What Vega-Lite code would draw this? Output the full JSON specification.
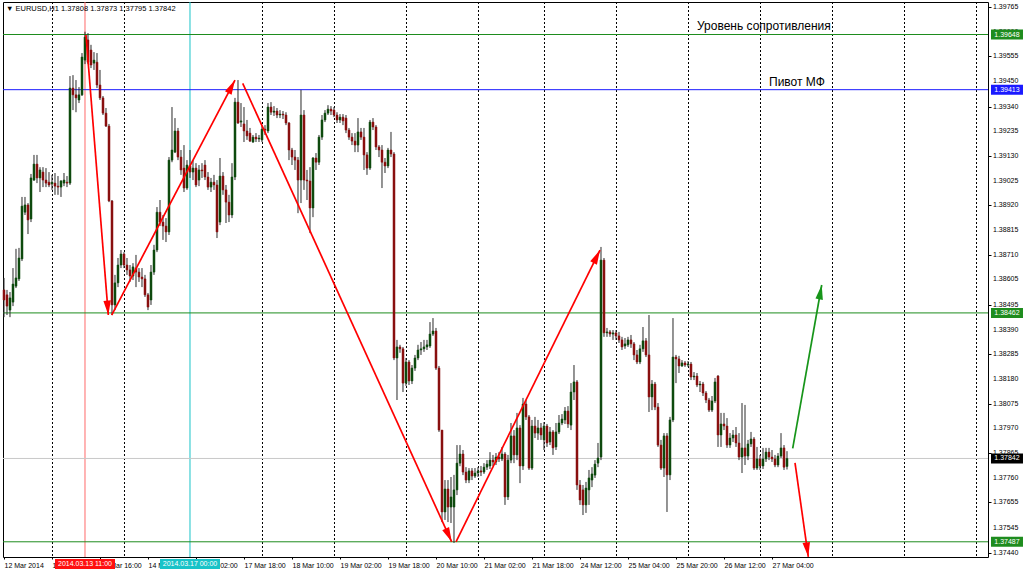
{
"$schema": "https://vega.github.io/schema/vega-lite/v6.json",
"width": 985, "height": 555,
"autosize": {"type": "none"},
"padding": {"left": 3, "top": 2, "right": 36, "bottom": 15},
"background": "#ffffff",
"config": {"view": {"stroke": "#000000", "strokeWidth": 1}, "font": "Liberation Sans", "axis": {"labelOverlap": false, "labelSeparation": 0}, "scale": {"continuousPadding": 0}},
"resolve": {"scale": {"color": "independent"}},
"datasets": {
"candles": [
{"i":0,"o":1.3856,"h":1.38611,"l":1.38444,"c":1.38517},
{"i":1,"o":1.38539,"h":1.3856,"l":1.38453,"c":1.38491},
{"i":2,"o":1.38474,"h":1.38551,"l":1.38444,"c":1.38526},
{"i":3,"o":1.38508,"h":1.38653,"l":1.38491,"c":1.38585},
{"i":4,"o":1.38576,"h":1.38735,"l":1.38568,"c":1.38611},
{"i":5,"o":1.38607,"h":1.38739,"l":1.38598,"c":1.38696},
{"i":6,"o":1.38692,"h":1.38956,"l":1.38683,"c":1.38917},
{"i":7,"o":1.38891,"h":1.38956,"l":1.38879,"c":1.38922},
{"i":8,"o":1.38922,"h":1.3893,"l":1.38798,"c":1.38858},
{"i":9,"o":1.38862,"h":1.39054,"l":1.38849,"c":1.39037},
{"i":10,"o":1.39028,"h":1.39135,"l":1.39024,"c":1.39096},
{"i":11,"o":1.39096,"h":1.39135,"l":1.39015,"c":1.39037},
{"i":12,"o":1.39037,"h":1.39083,"l":1.38977,"c":1.39071},
{"i":13,"o":1.39062,"h":1.39083,"l":1.38998,"c":1.39028},
{"i":14,"o":1.39028,"h":1.39079,"l":1.38998,"c":1.39015},
{"i":15,"o":1.39019,"h":1.39062,"l":1.38998,"c":1.39007},
{"i":16,"o":1.39011,"h":1.3905,"l":1.38986,"c":1.39019},
{"i":17,"o":1.39015,"h":1.39058,"l":1.38965,"c":1.39002},
{"i":18,"o":1.39002,"h":1.39045,"l":1.38965,"c":1.38998},
{"i":19,"o":1.38998,"h":1.39028,"l":1.38956,"c":1.39024},
{"i":20,"o":1.39015,"h":1.39058,"l":1.39002,"c":1.39028},
{"i":21,"o":1.39019,"h":1.39045,"l":1.38998,"c":1.39015},
{"i":22,"o":1.39015,"h":1.39471,"l":1.39007,"c":1.3942},
{"i":23,"o":1.3942,"h":1.39475,"l":1.39326,"c":1.39391},
{"i":24,"o":1.39391,"h":1.39454,"l":1.39317,"c":1.39378},
{"i":25,"o":1.39369,"h":1.39424,"l":1.39356,"c":1.39391},
{"i":26,"o":1.39391,"h":1.39569,"l":1.39386,"c":1.39552},
{"i":27,"o":1.39539,"h":1.3966,"l":1.39522,"c":1.39637},
{"i":28,"o":1.39625,"h":1.39654,"l":1.39522,"c":1.3953},
{"i":29,"o":1.39582,"h":1.39604,"l":1.39505,"c":1.39518},
{"i":30,"o":1.39526,"h":1.39573,"l":1.39497,"c":1.39539},
{"i":31,"o":1.3953,"h":1.39569,"l":1.3942,"c":1.39433},
{"i":32,"o":1.39433,"h":1.39497,"l":1.39369,"c":1.39378},
{"i":33,"o":1.39378,"h":1.39386,"l":1.39305,"c":1.39313},
{"i":34,"o":1.39313,"h":1.39335,"l":1.39254,"c":1.39258},
{"i":35,"o":1.39258,"h":1.39267,"l":1.38934,"c":1.38939},
{"i":36,"o":1.38939,"h":1.38943,"l":1.38453,"c":1.38496},
{"i":37,"o":1.38496,"h":1.38624,"l":1.38474,"c":1.3859},
{"i":38,"o":1.3859,"h":1.38696,"l":1.38572,"c":1.38666},
{"i":39,"o":1.38666,"h":1.3873,"l":1.38653,"c":1.38713},
{"i":40,"o":1.38713,"h":1.38721,"l":1.38653,"c":1.38666},
{"i":41,"o":1.38666,"h":1.38696,"l":1.38624,"c":1.38645},
{"i":42,"o":1.38645,"h":1.38666,"l":1.38594,"c":1.38619},
{"i":43,"o":1.38619,"h":1.38674,"l":1.38602,"c":1.38658},
{"i":44,"o":1.38653,"h":1.38709,"l":1.38572,"c":1.38636},
{"i":45,"o":1.38636,"h":1.38653,"l":1.38594,"c":1.38615},
{"i":46,"o":1.38615,"h":1.38653,"l":1.38572,"c":1.38607},
{"i":47,"o":1.38607,"h":1.38624,"l":1.3853,"c":1.38539},
{"i":48,"o":1.38539,"h":1.38547,"l":1.38474,"c":1.38487},
{"i":49,"o":1.38517,"h":1.38666,"l":1.38496,"c":1.38636},
{"i":50,"o":1.38636,"h":1.38752,"l":1.38624,"c":1.3873},
{"i":51,"o":1.3873,"h":1.38913,"l":1.38721,"c":1.38891},
{"i":52,"o":1.38891,"h":1.38943,"l":1.38832,"c":1.38849},
{"i":53,"o":1.38849,"h":1.38879,"l":1.38773,"c":1.38832},
{"i":54,"o":1.38832,"h":1.38866,"l":1.38764,"c":1.38807},
{"i":55,"o":1.38807,"h":1.39126,"l":1.38794,"c":1.39113},
{"i":56,"o":1.39113,"h":1.39339,"l":1.39104,"c":1.39156},
{"i":57,"o":1.39147,"h":1.39292,"l":1.39143,"c":1.39237},
{"i":58,"o":1.39237,"h":1.3925,"l":1.39113,"c":1.39126},
{"i":59,"o":1.39126,"h":1.39156,"l":1.3905,"c":1.39071},
{"i":60,"o":1.39079,"h":1.39177,"l":1.38977,"c":1.38994},
{"i":61,"o":1.38994,"h":1.39113,"l":1.38986,"c":1.39092},
{"i":62,"o":1.39088,"h":1.39156,"l":1.39037,"c":1.39062},
{"i":63,"o":1.39062,"h":1.39113,"l":1.39028,"c":1.39079},
{"i":64,"o":1.39079,"h":1.391,"l":1.38998,"c":1.39007},
{"i":65,"o":1.39028,"h":1.39092,"l":1.39002,"c":1.39071},
{"i":66,"o":1.39071,"h":1.391,"l":1.39037,"c":1.39067},
{"i":67,"o":1.39092,"h":1.39113,"l":1.39028,"c":1.39041},
{"i":68,"o":1.39041,"h":1.39062,"l":1.38986,"c":1.38998},
{"i":69,"o":1.38998,"h":1.39037,"l":1.38977,"c":1.39019},
{"i":70,"o":1.39019,"h":1.3905,"l":1.38986,"c":1.39007},
{"i":71,"o":1.39007,"h":1.39028,"l":1.38781,"c":1.38807},
{"i":72,"o":1.38849,"h":1.39122,"l":1.38836,"c":1.39045},
{"i":73,"o":1.39045,"h":1.39062,"l":1.38965,"c":1.38986},
{"i":74,"o":1.38986,"h":1.39007,"l":1.38845,"c":1.38934},
{"i":75,"o":1.38934,"h":1.38965,"l":1.38849,"c":1.38879},
{"i":76,"o":1.38879,"h":1.391,"l":1.38866,"c":1.39041},
{"i":77,"o":1.39041,"h":1.39378,"l":1.39028,"c":1.3936},
{"i":78,"o":1.3936,"h":1.39454,"l":1.39267,"c":1.39271},
{"i":79,"o":1.39275,"h":1.39356,"l":1.39254,"c":1.3928},
{"i":80,"o":1.39267,"h":1.39339,"l":1.3919,"c":1.39237},
{"i":81,"o":1.39237,"h":1.39284,"l":1.39199,"c":1.39216},
{"i":82,"o":1.39228,"h":1.3925,"l":1.3919,"c":1.39194},
{"i":83,"o":1.3919,"h":1.3922,"l":1.39186,"c":1.39211},
{"i":84,"o":1.39211,"h":1.39228,"l":1.3919,"c":1.39203},
{"i":85,"o":1.39203,"h":1.3922,"l":1.3919,"c":1.39207},
{"i":86,"o":1.39199,"h":1.39258,"l":1.3919,"c":1.39245},
{"i":87,"o":1.39245,"h":1.39262,"l":1.3922,"c":1.39241},
{"i":88,"o":1.39237,"h":1.39356,"l":1.39228,"c":1.39339},
{"i":89,"o":1.39339,"h":1.3936,"l":1.39305,"c":1.39317},
{"i":90,"o":1.39317,"h":1.39343,"l":1.39301,"c":1.39322},
{"i":91,"o":1.39322,"h":1.39335,"l":1.39292,"c":1.39305},
{"i":92,"o":1.39305,"h":1.39326,"l":1.39292,"c":1.39309},
{"i":93,"o":1.39309,"h":1.39322,"l":1.39288,"c":1.39305},
{"i":94,"o":1.39305,"h":1.39317,"l":1.39262,"c":1.39271},
{"i":95,"o":1.39271,"h":1.39275,"l":1.39113,"c":1.39156},
{"i":96,"o":1.39156,"h":1.39165,"l":1.39092,"c":1.39126},
{"i":97,"o":1.39126,"h":1.39156,"l":1.39071,"c":1.39113},
{"i":98,"o":1.39113,"h":1.39126,"l":1.38887,"c":1.39028},
{"i":99,"o":1.39028,"h":1.39412,"l":1.3893,"c":1.39305},
{"i":100,"o":1.39305,"h":1.39326,"l":1.38986,"c":1.39028},
{"i":101,"o":1.39028,"h":1.39071,"l":1.38943,"c":1.39024},
{"i":102,"o":1.39024,"h":1.39083,"l":1.38802,"c":1.38909},
{"i":103,"o":1.38909,"h":1.39126,"l":1.3887,"c":1.39122},
{"i":104,"o":1.39122,"h":1.39143,"l":1.39071,"c":1.39104},
{"i":105,"o":1.39104,"h":1.3922,"l":1.39092,"c":1.39211},
{"i":106,"o":1.39211,"h":1.39305,"l":1.39199,"c":1.39284},
{"i":107,"o":1.39284,"h":1.39326,"l":1.39275,"c":1.39313},
{"i":108,"o":1.39313,"h":1.39347,"l":1.39305,"c":1.3933},
{"i":109,"o":1.3933,"h":1.39343,"l":1.39305,"c":1.39322},
{"i":110,"o":1.39326,"h":1.39339,"l":1.39296,"c":1.39305},
{"i":111,"o":1.39305,"h":1.39317,"l":1.39271,"c":1.39284},
{"i":112,"o":1.39284,"h":1.39309,"l":1.39271,"c":1.39296},
{"i":113,"o":1.39296,"h":1.39309,"l":1.39262,"c":1.3928},
{"i":114,"o":1.39292,"h":1.39305,"l":1.39228,"c":1.39241},
{"i":115,"o":1.39241,"h":1.3925,"l":1.39199,"c":1.39211},
{"i":116,"o":1.39211,"h":1.39228,"l":1.39177,"c":1.39194},
{"i":117,"o":1.39194,"h":1.39228,"l":1.39147,"c":1.39177},
{"i":118,"o":1.39177,"h":1.39292,"l":1.39147,"c":1.39233},
{"i":119,"o":1.39233,"h":1.3925,"l":1.39199,"c":1.39211},
{"i":120,"o":1.39211,"h":1.3925,"l":1.39071,"c":1.39135},
{"i":121,"o":1.39135,"h":1.39147,"l":1.3905,"c":1.39079},
{"i":122,"o":1.39079,"h":1.39284,"l":1.39071,"c":1.39275},
{"i":123,"o":1.39275,"h":1.39292,"l":1.39241,"c":1.39254},
{"i":124,"o":1.39254,"h":1.39262,"l":1.39156,"c":1.39169},
{"i":125,"o":1.39169,"h":1.39177,"l":1.39126,"c":1.39156},
{"i":126,"o":1.39156,"h":1.39177,"l":1.38994,"c":1.39104},
{"i":127,"o":1.39104,"h":1.39122,"l":1.39058,"c":1.39088},
{"i":128,"o":1.39088,"h":1.39165,"l":1.39079,"c":1.39156},
{"i":129,"o":1.39156,"h":1.39233,"l":1.39126,"c":1.39139},
{"i":130,"o":1.39139,"h":1.39147,"l":1.38261,"c":1.3827},
{"i":131,"o":1.3827,"h":1.38347,"l":1.38091,"c":1.38317},
{"i":132,"o":1.38317,"h":1.38326,"l":1.38292,"c":1.38309},
{"i":133,"o":1.38309,"h":1.38317,"l":1.38125,"c":1.38163},
{"i":134,"o":1.38163,"h":1.3827,"l":1.38151,"c":1.38253},
{"i":135,"o":1.38253,"h":1.38261,"l":1.38155,"c":1.38172},
{"i":136,"o":1.38172,"h":1.3824,"l":1.38159,"c":1.38227},
{"i":137,"o":1.38227,"h":1.38283,"l":1.38215,"c":1.3827},
{"i":138,"o":1.3827,"h":1.38326,"l":1.38261,"c":1.38304},
{"i":139,"o":1.38304,"h":1.38338,"l":1.38283,"c":1.38309},
{"i":140,"o":1.38309,"h":1.38347,"l":1.38296,"c":1.38317},
{"i":141,"o":1.38317,"h":1.38347,"l":1.38304,"c":1.38326},
{"i":142,"o":1.38321,"h":1.38423,"l":1.38313,"c":1.38372},
{"i":143,"o":1.38372,"h":1.3844,"l":1.38364,"c":1.38385},
{"i":144,"o":1.38385,"h":1.38398,"l":1.38219,"c":1.38227},
{"i":145,"o":1.38227,"h":1.38236,"l":1.37955,"c":1.37963},
{"i":146,"o":1.37963,"h":1.37963,"l":1.37571,"c":1.37614},
{"i":147,"o":1.37614,"h":1.3775,"l":1.3758,"c":1.37712},
{"i":148,"o":1.37712,"h":1.3775,"l":1.37571,"c":1.37635},
{"i":149,"o":1.37635,"h":1.37763,"l":1.37567,"c":1.37678},
{"i":150,"o":1.37635,"h":1.37772,"l":1.37482,"c":1.37708},
{"i":151,"o":1.37708,"h":1.37899,"l":1.37686,"c":1.37822},
{"i":152,"o":1.37822,"h":1.37899,"l":1.37809,"c":1.37861},
{"i":153,"o":1.37861,"h":1.37878,"l":1.37771,"c":1.37784},
{"i":154,"o":1.37784,"h":1.37805,"l":1.37737,"c":1.3775},
{"i":155,"o":1.3775,"h":1.37801,"l":1.37737,"c":1.37789},
{"i":156,"o":1.37789,"h":1.37801,"l":1.3775,"c":1.37767},
{"i":157,"o":1.37767,"h":1.37801,"l":1.37759,"c":1.3778},
{"i":158,"o":1.3778,"h":1.37805,"l":1.37763,"c":1.37789},
{"i":159,"o":1.37789,"h":1.3781,"l":1.37767,"c":1.37784},
{"i":160,"o":1.37784,"h":1.37822,"l":1.37776,"c":1.37805},
{"i":161,"o":1.37805,"h":1.37835,"l":1.37793,"c":1.37818},
{"i":162,"o":1.3781,"h":1.37869,"l":1.37797,"c":1.37835},
{"i":163,"o":1.37835,"h":1.37857,"l":1.3781,"c":1.37827},
{"i":164,"o":1.37827,"h":1.37865,"l":1.37814,"c":1.37848},
{"i":165,"o":1.37848,"h":1.37869,"l":1.37827,"c":1.3784},
{"i":166,"o":1.3784,"h":1.37891,"l":1.37831,"c":1.37861},
{"i":167,"o":1.37861,"h":1.37869,"l":1.37644,"c":1.37678},
{"i":168,"o":1.37678,"h":1.37857,"l":1.37665,"c":1.37835},
{"i":169,"o":1.37835,"h":1.37993,"l":1.37822,"c":1.37938},
{"i":170,"o":1.37938,"h":1.37963,"l":1.37822,"c":1.37857},
{"i":171,"o":1.37857,"h":1.38036,"l":1.37835,"c":1.37972},
{"i":172,"o":1.37972,"h":1.37984,"l":1.37737,"c":1.3781},
{"i":173,"o":1.3781,"h":1.381,"l":1.37793,"c":1.38074},
{"i":174,"o":1.38074,"h":1.38091,"l":1.38006,"c":1.38019},
{"i":175,"o":1.38019,"h":1.38027,"l":1.37793,"c":1.37801},
{"i":176,"o":1.37801,"h":1.38006,"l":1.37793,"c":1.3798},
{"i":177,"o":1.3798,"h":1.38019,"l":1.37929,"c":1.3795},
{"i":178,"o":1.3795,"h":1.38006,"l":1.37921,"c":1.37972},
{"i":179,"o":1.37972,"h":1.37993,"l":1.37921,"c":1.37942},
{"i":180,"o":1.37921,"h":1.37997,"l":1.37878,"c":1.3798},
{"i":181,"o":1.3798,"h":1.37989,"l":1.37891,"c":1.37908},
{"i":182,"o":1.37912,"h":1.37976,"l":1.37899,"c":1.37955},
{"i":183,"o":1.37955,"h":1.37963,"l":1.37857,"c":1.37887},
{"i":184,"o":1.37891,"h":1.37993,"l":1.37878,"c":1.37955},
{"i":185,"o":1.37955,"h":1.38027,"l":1.37946,"c":1.37993},
{"i":186,"o":1.37993,"h":1.38031,"l":1.37984,"c":1.3801},
{"i":187,"o":1.38006,"h":1.38061,"l":1.37989,"c":1.38044},
{"i":188,"o":1.38044,"h":1.38065,"l":1.37972,"c":1.37989},
{"i":189,"o":1.37984,"h":1.38163,"l":1.37963,"c":1.38125},
{"i":190,"o":1.38125,"h":1.3824,"l":1.38091,"c":1.38168},
{"i":191,"o":1.38168,"h":1.38176,"l":1.37708,"c":1.37729},
{"i":192,"o":1.37729,"h":1.3775,"l":1.37644,"c":1.37665},
{"i":193,"o":1.37708,"h":1.37729,"l":1.37601,"c":1.37644},
{"i":194,"o":1.37644,"h":1.37742,"l":1.3761,"c":1.37716},
{"i":195,"o":1.37708,"h":1.37793,"l":1.37644,"c":1.37759},
{"i":196,"o":1.3775,"h":1.37805,"l":1.3772,"c":1.37776},
{"i":197,"o":1.37771,"h":1.37835,"l":1.37759,"c":1.37818},
{"i":198,"o":1.37822,"h":1.37908,"l":1.37805,"c":1.37844},
{"i":199,"o":1.37848,"h":1.38743,"l":1.37835,"c":1.38687},
{"i":200,"o":1.38687,"h":1.38696,"l":1.3836,"c":1.38377},
{"i":201,"o":1.38377,"h":1.38398,"l":1.3836,"c":1.38381},
{"i":202,"o":1.38381,"h":1.38389,"l":1.3836,"c":1.38372},
{"i":203,"o":1.38372,"h":1.38389,"l":1.38347,"c":1.38377},
{"i":204,"o":1.38377,"h":1.38389,"l":1.38347,"c":1.38364},
{"i":205,"o":1.38364,"h":1.38381,"l":1.38334,"c":1.38347},
{"i":206,"o":1.38347,"h":1.3836,"l":1.38304,"c":1.38317},
{"i":207,"o":1.38321,"h":1.38355,"l":1.38309,"c":1.3833},
{"i":208,"o":1.38326,"h":1.3836,"l":1.38317,"c":1.38347},
{"i":209,"o":1.38347,"h":1.38368,"l":1.38313,"c":1.3833},
{"i":210,"o":1.3833,"h":1.38338,"l":1.38261,"c":1.38283},
{"i":211,"o":1.38283,"h":1.38304,"l":1.38244,"c":1.38253},
{"i":212,"o":1.38253,"h":1.38326,"l":1.38244,"c":1.38309},
{"i":213,"o":1.38309,"h":1.38402,"l":1.38296,"c":1.38343},
{"i":214,"o":1.38343,"h":1.38355,"l":1.38274,"c":1.38283},
{"i":215,"o":1.38283,"h":1.38453,"l":1.3804,"c":1.38104},
{"i":216,"o":1.38104,"h":1.38176,"l":1.38048,"c":1.38159},
{"i":217,"o":1.38159,"h":1.38168,"l":1.38048,"c":1.38061},
{"i":218,"o":1.38061,"h":1.38078,"l":1.37891,"c":1.37899},
{"i":219,"o":1.37899,"h":1.37921,"l":1.37793,"c":1.37801},
{"i":220,"o":1.37801,"h":1.3795,"l":1.37763,"c":1.37938},
{"i":221,"o":1.37938,"h":1.3795,"l":1.37614,"c":1.37772},
{"i":222,"o":1.37772,"h":1.38019,"l":1.3775,"c":1.38006},
{"i":223,"o":1.38006,"h":1.3844,"l":1.37997,"c":1.38274},
{"i":224,"o":1.38274,"h":1.38283,"l":1.38163,"c":1.38266},
{"i":225,"o":1.38266,"h":1.38279,"l":1.38206,"c":1.38236},
{"i":226,"o":1.38236,"h":1.38261,"l":1.38232,"c":1.38249},
{"i":227,"o":1.38249,"h":1.38257,"l":1.38232,"c":1.3824},
{"i":228,"o":1.3824,"h":1.38257,"l":1.38232,"c":1.38244},
{"i":229,"o":1.38244,"h":1.38253,"l":1.38176,"c":1.38189},
{"i":230,"o":1.38189,"h":1.3821,"l":1.38176,"c":1.38193},
{"i":231,"o":1.38193,"h":1.38206,"l":1.38146,"c":1.38155},
{"i":232,"o":1.38155,"h":1.38172,"l":1.38125,"c":1.38159},
{"i":233,"o":1.38159,"h":1.38168,"l":1.38108,"c":1.38121},
{"i":234,"o":1.38121,"h":1.38129,"l":1.38078,"c":1.38091},
{"i":235,"o":1.38091,"h":1.381,"l":1.3804,"c":1.38048},
{"i":236,"o":1.38048,"h":1.38108,"l":1.3804,"c":1.38087},
{"i":237,"o":1.38087,"h":1.38185,"l":1.38078,"c":1.38168},
{"i":238,"o":1.38193,"h":1.38197,"l":1.37891,"c":1.37942},
{"i":239,"o":1.37942,"h":1.38036,"l":1.37891,"c":1.37989},
{"i":240,"o":1.37989,"h":1.38036,"l":1.37963,"c":1.3798},
{"i":241,"o":1.3798,"h":1.38014,"l":1.37887,"c":1.37899},
{"i":242,"o":1.37899,"h":1.3795,"l":1.37887,"c":1.37929},
{"i":243,"o":1.37929,"h":1.37963,"l":1.37912,"c":1.37942},
{"i":244,"o":1.37942,"h":1.37976,"l":1.37891,"c":1.37908},
{"i":245,"o":1.37908,"h":1.3795,"l":1.37835,"c":1.37848},
{"i":246,"o":1.37848,"h":1.38078,"l":1.3778,"c":1.37887},
{"i":247,"o":1.37887,"h":1.3807,"l":1.37814,"c":1.37852},
{"i":248,"o":1.37852,"h":1.37921,"l":1.37835,"c":1.37904},
{"i":249,"o":1.37904,"h":1.37955,"l":1.37891,"c":1.37925},
{"i":250,"o":1.37925,"h":1.37933,"l":1.37793,"c":1.37801},
{"i":251,"o":1.37801,"h":1.37891,"l":1.37793,"c":1.3784},
{"i":252,"o":1.3784,"h":1.37857,"l":1.37793,"c":1.3781},
{"i":253,"o":1.3781,"h":1.37887,"l":1.37797,"c":1.3784},
{"i":254,"o":1.3784,"h":1.37887,"l":1.37827,"c":1.37869},
{"i":255,"o":1.37869,"h":1.37887,"l":1.37835,"c":1.37848},
{"i":256,"o":1.37848,"h":1.37878,"l":1.37827,"c":1.3784},
{"i":257,"o":1.3784,"h":1.37857,"l":1.37805,"c":1.37814},
{"i":258,"o":1.37814,"h":1.37865,"l":1.37805,"c":1.37852},
{"i":259,"o":1.37852,"h":1.3795,"l":1.37844,"c":1.37887},
{"i":260,"o":1.37887,"h":1.37899,"l":1.37793,"c":1.37805},
{"i":261,"o":1.37808,"h":1.37873,"l":1.37795,"c":1.37842}
],
"seps": [{"i":16},{"i":40},{"i":86},{"i":110},{"i":134},{"i":158},{"i":180},{"i":204},{"i":228},{"i":252},{"i":276},{"i":300},{"i":324}],
"markers": [{"i":27,"kind":"t1","label":"2014.03.13 11:00"},{"i":62,"kind":"t2","label":"2014.03.17 00:00"}],
"levels": [{"p":1.37842,"kind":"bid"},{"p":1.39648,"kind":"level"},{"p":1.39413,"kind":"pivot"},{"p":1.38462,"kind":"level"},{"p":1.37487,"kind":"level"}],
"ylabels": [{"v":1.3744},{"v":1.37545},{"v":1.37655},{"v":1.3776},{"v":1.37865},{"v":1.3797},{"v":1.38075},{"v":1.3818},{"v":1.38285},{"v":1.3839},{"v":1.38495},{"v":1.38605},{"v":1.3871},{"v":1.38815},{"v":1.3892},{"v":1.39025},{"v":1.3913},{"v":1.39235},{"v":1.3934},{"v":1.3945},{"v":1.39555},{"v":1.3966},{"v":1.39765}],
"arrows": [
{"a":"A","k":0,"i":27.33,"p":1.39646},{"a":"A","k":1,"i":34.77,"p":1.38453},
{"a":"B","k":0,"i":35.9,"p":1.38453},{"a":"B","k":1,"i":77,"p":1.39454},
{"a":"C","k":0,"i":79.57,"p":1.3944},{"a":"C","k":1,"i":149.23,"p":1.37487},
{"a":"D","k":0,"i":150.67,"p":1.37487},{"a":"D","k":1,"i":198.67,"p":1.3873},
{"a":"E","k":0,"i":262.9,"p":1.37885},{"a":"E","k":1,"i":272.57,"p":1.38581},
{"a":"F","k":0,"i":263.67,"p":1.37823},{"a":"F","k":1,"i":268.1,"p":1.37423}
],
"notes": [{"i":231,"p":1.39669,"text":"Уровень сопротивления"},{"i":255,"p":1.39427,"text":"Пивот МФ"}]
},
"layer": [
{"data": {"name": "seps"}, "mark": {"type": "rule", "color": "#000000", "strokeWidth": 1, "strokeDash": [2, 2], "xOffset": 0.5},
 "encoding": {"x": {"field": "i", "type": "quantitative"}}},
{"data": {"name": "markers"}, "mark": {"type": "rule", "strokeWidth": 1},
 "encoding": {"x": {"field": "i", "type": "quantitative"},
  "color": {"field": "kind", "type": "nominal", "scale": {"domain": ["t1", "t2"], "range": ["#ff6a6a", "#19c3c8"]}, "legend": null}}},
{"data": {"name": "levels"}, "mark": {"type": "rule", "strokeWidth": 1},
 "encoding": {"y": {"field": "p", "type": "quantitative"},
  "color": {"field": "kind", "type": "nominal", "scale": {"domain": ["bid", "level", "pivot"], "range": ["#c8c8c8", "#1e8c1e", "#1a1aff"]}, "legend": null}}},
{"data": {"name": "candles"}, "mark": {"type": "rule", "color": "#2a2a2a", "strokeWidth": 1},
 "encoding": {
  "x": {"field": "i", "type": "quantitative", "scale": {"domain": [-0.3333, 328], "nice": false, "zero": false, "padding": 0},
   "axis": {"values": [0,16,32,48,64,80,96,112,128,144,160,176,192,208,224,240,256],
    "labelExpr": "['12 Mar 2014','13 Mar 00:00','13 Mar 16:00','14 Mar 08:00','17 Mar 02:00','17 Mar 18:00','18 Mar 10:00','19 Mar 02:00','19 Mar 18:00','20 Mar 10:00','21 Mar 02:00','21 Mar 18:00','24 Mar 12:00','25 Mar 04:00','25 Mar 20:00','26 Mar 12:00','27 Mar 04:00'][datum.value/16]",
    "labelAlign": "left", "labelBaseline": "top", "labelFont": "Liberation Sans", "labelFontSize": 7, "labelColor": "#000000",
    "labelPadding": 2, "tickSize": 2, "tickColor": "#000000", "domain": false, "grid": false, "title": null,
    "labelFlush": false, "labelOverlap": false, "labelBound": false}},
  "y": {"field": "l", "type": "quantitative", "scale": {"domain": [1.374222, 1.397865], "nice": false, "zero": false, "padding": 0},
   "axis": {"orient": "right", "values": [1.3744,1.37545,1.37655,1.3776,1.37865,1.3797,1.38075,1.3818,1.38285,1.3839,1.38495,1.38605,1.3871,1.38815,1.3892,1.39025,1.3913,1.39235,1.3934,1.3945,1.39555,1.3966,1.39765],
    "labels": false, "tickSize": 3, "tickColor": "#000000", "domain": false, "grid": false, "title": null}},
  "y2": {"field": "h"}}},
{"data": {"name": "candles"}, "mark": {"type": "bar", "orient": "vertical", "size": 2, "strokeWidth": 0.5},
 "encoding": {
  "x": {"field": "i", "type": "quantitative"},
  "y": {"field": "o", "type": "quantitative"},
  "y2": {"field": "c"},
  "fill": {"condition": {"test": "datum.c >= datum.o", "value": "#0f4a0f"}, "value": "#8a1010"},
  "stroke": {"condition": {"test": "datum.c >= datum.o", "value": "#0f4a0f"}, "value": "#8a1010"}}},
{"data": {"name": "arrows"}, "mark": {"type": "line", "strokeWidth": 1.7},
 "encoding": {
  "x": {"field": "i", "type": "quantitative"},
  "y": {"field": "p", "type": "quantitative"},
  "order": {"field": "k"},
  "color": {"field": "a", "type": "nominal", "scale": {"domain": ["A","B","C","D","E","F"], "range": ["#ff0000","#ff0000","#ff0000","#ff0000","#17951a","#ff0000"]}, "legend": null}}},
{"data": {"name": "arrows"}, "transform": [{"filter": "datum.k == 1"}],
 "mark": {"type": "point", "shape": "M0,0L0.75,2.9L-0.75,2.9Z", "size": 100, "filled": true, "opacity": 1, "strokeWidth": 0},
 "encoding": {
  "x": {"field": "i", "type": "quantitative"},
  "y": {"field": "p", "type": "quantitative"},
  "angle": {"field": "a", "type": "nominal", "scale": {"type": "ordinal", "domain": ["A","B","C","D","E","F"], "range": [175.4, 27.7, 155.5, 26.3, 10.1, 171.9]}, "legend": null},
  "color": {"field": "a", "type": "nominal", "scale": {"domain": ["A","B","C","D","E","F"], "range": ["#ff0000","#ff0000","#ff0000","#ff0000","#17951a","#ff0000"]}, "legend": null}}},
{"data": {"name": "notes"}, "mark": {"type": "text", "align": "left", "baseline": "alphabetic", "font": "Liberation Sans", "fontSize": 12, "color": "#000000"},
 "encoding": {"x": {"field": "i", "type": "quantitative"}, "y": {"field": "p", "type": "quantitative"}, "text": {"field": "text"}}},
{"data": {"values": [{"text": "▼ EURUSD,H1  1.37808 1.37873 1.37795 1.37842"}]},
 "mark": {"type": "text", "align": "left", "baseline": "alphabetic", "font": "Liberation Sans", "fontSize": 7.5, "color": "#000000"},
 "encoding": {"x": {"datum": 0.67, "type": "quantitative"}, "y": {"datum": 1.39748, "type": "quantitative"}, "text": {"field": "text"}}},
{"data": {"name": "ylabels"}, "mark": {"type": "text", "align": "left", "baseline": "middle", "font": "Liberation Sans", "fontSize": 7, "color": "#000000"},
 "encoding": {"x": {"datum": 329.67, "type": "quantitative"}, "y": {"field": "v", "type": "quantitative"}, "text": {"field": "v", "type": "quantitative", "format": ".5f"}}},
{"data": {"name": "levels"}, "mark": {"type": "tick", "orient": "horizontal", "size": 32, "thickness": 10, "opacity": 1},
 "encoding": {"x": {"datum": 334.33, "type": "quantitative"}, "y": {"field": "p", "type": "quantitative"},
  "color": {"field": "kind", "type": "nominal", "scale": {"domain": ["bid", "level", "pivot"], "range": ["#000000", "#1e8c1e", "#1a1aff"]}, "legend": null}}},
{"data": {"name": "levels"}, "mark": {"type": "text", "align": "center", "baseline": "middle", "font": "Liberation Sans", "fontSize": 7, "color": "#ffffff"},
 "encoding": {"x": {"datum": 334.33, "type": "quantitative"}, "y": {"field": "p", "type": "quantitative"}, "text": {"field": "p", "type": "quantitative", "format": ".5f"}}},
{"data": {"name": "markers"}, "mark": {"type": "tick", "orient": "horizontal", "size": 60, "thickness": 10, "opacity": 1},
 "encoding": {"x": {"field": "i", "type": "quantitative"}, "y": {"datum": 1.37392, "type": "quantitative"},
  "color": {"field": "kind", "type": "nominal", "scale": {"domain": ["t1", "t2"], "range": ["#ff1010", "#19c3c8"]}, "legend": null}}},
{"data": {"name": "markers"}, "mark": {"type": "text", "align": "center", "baseline": "middle", "font": "Liberation Sans", "fontSize": 7, "color": "#ffffff"},
 "encoding": {"x": {"field": "i", "type": "quantitative"}, "y": {"datum": 1.37392, "type": "quantitative"}, "text": {"field": "label"}}}
]
}
